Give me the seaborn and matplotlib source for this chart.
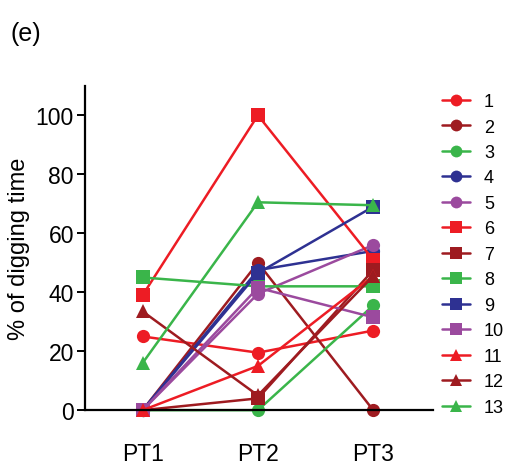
import matplotlib
matplotlib.use("Agg")
import matplotlib.pyplot as plt
import seaborn as sns
import pandas as pd
from matplotlib.lines import Line2D

sns.set_theme(style="white")
plt.rcParams['font.family'] = ['Liberation Sans', 'DejaVu Sans']
plt.rcParams['text.color'] = 'black'
plt.rcParams['axes.labelcolor'] = 'black'
plt.rcParams['xtick.color'] = 'black'
plt.rcParams['ytick.color'] = 'black'

timepoints = ["PT1", "PT2", "PT3"]
subjects = ["1", "2", "3", "4", "5", "6", "7", "8", "9", "10", "11", "12", "13"]
s1 = [25, 19.5, 27]
s2 = [0, 50, 0]
s3 = [0, 0, 35.5]
s4 = [0, 47.5, 54]
s5 = [0, 39.5, 56]
s6 = [39, 100, 51]
s7 = [0, 4, 47.5]
s8 = [45, 42, 42]
s9 = [0, 46.5, 69]
s10 = [0, 41.5, 31.5]
s11 = [0, 15, 45.5]
s12 = [33.5, 5, 45.5]
s13 = [16, 70.5, 69.5]
series = [s1, s2, s3, s4, s5, s6, s7, s8, s9, s10, s11, s12, s13]

red = "#ED1C24"
dred = "#9E1B20"
green = "#3AB54A"
blue = "#2E3192"
purple = "#9B4A9E"
colors = [red, dred, green, blue, purple] * 2 + [red, dred, green]
markers = ["o"] * 5 + ["s"] * 5 + ["^"] * 3

rows = []
for sub, vals in zip(subjects, series):
    for tp, v in zip(timepoints, vals):
        rows.append({"subject": sub, "timepoint": tp, "value": v})
df = pd.DataFrame(rows)

fig = plt.figure(figsize=(5.09, 4.77), dpi=100)
ax = fig.add_axes([0.167, 0.138, 0.684, 0.680])

palette = dict(zip(subjects, colors))
mk = dict(zip(subjects, markers))
sns.lineplot(data=df, x="timepoint", y="value", hue="subject", style="subject",
             hue_order=subjects, style_order=subjects, palette=palette,
             markers=mk, dashes=False, markersize=9.5, linewidth=1.8,
             markeredgewidth=0, ax=ax, legend=False, sort=False)
for ln in ax.lines:
    ln.set_clip_on(False)

ax.set_xlim(-0.5, 2.52)
ax.set_ylim(0, 110)
ax.set_yticks([0, 20, 40, 60, 80, 100])
ax.set_xlabel("")
ax.set_ylabel("% of digging time", fontsize=17, labelpad=4)
for s in ["top", "right"]:
    ax.spines[s].set_visible(False)
for s in ["left", "bottom"]:
    ax.spines[s].set_color("black")
    ax.spines[s].set_linewidth(1.6)
ax.tick_params(axis="y", which="major", left=True, length=6, width=1.4,
               labelsize=16.5, pad=2)
ax.tick_params(axis="x", which="major", bottom=True, length=3, width=1.4,
               labelsize=16.5, pad=20)

handles = [Line2D([0], [0], color=c, marker=m, markersize=8.5, linewidth=1.8,
                  markeredgewidth=0) for c, m in zip(colors, markers)]
fig.legend(handles, subjects, loc="upper left", bbox_to_anchor=(0.855, 0.818),
           frameon=False, fontsize=13, handlelength=1.5, labelspacing=0.47,
           handletextpad=0.8, borderaxespad=0)

fig.text(0.02, 0.915, "(e)", fontsize=18)

fig.savefig("out.png", dpi=100)
